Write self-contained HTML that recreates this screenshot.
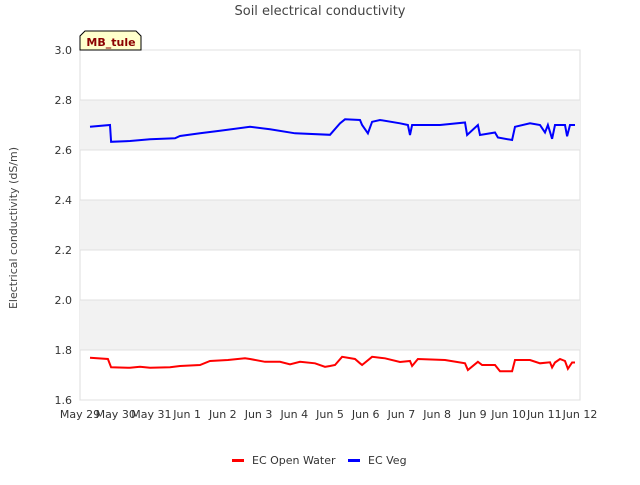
<!DOCTYPE html>
<html><head><meta charset="utf-8"><style>
body{margin:0;background:#fff;font-family:"Liberation Sans","DejaVu Sans",sans-serif;}
svg text{font-family:"DejaVu Sans","Liberation Sans",sans-serif;}
</style></head><body>
<svg id="chart" width="640" height="480" xmlns="http://www.w3.org/2000/svg">
<text x="320" y="15" text-anchor="middle" font-size="13" fill="#444">Soil electrical conductivity</text>
<text transform="translate(17,228) rotate(-90)" text-anchor="middle" font-size="11" fill="#444">Electrical conductivity (dS/m)</text>
<g id="bands"></g><g id="grid"></g><g id="ticks"></g><g id="series"></g>
<g>
<path d="M80,50 L80,36 L85,31 L136,31 L141,36 L141,50 Z" fill="#ffffcc" stroke="#000" stroke-width="1"/>
<text x="111" y="46" text-anchor="middle" font-size="11" font-weight="bold" fill="#8b0000">MB_tule</text>
</g>
<g>
<g><rect x="232" y="459" width="12" height="3" fill="#ff0000"/><text x="252" y="464" font-size="11" fill="#333">EC Open Water</text></g>
<g><rect x="348" y="459" width="12" height="3" fill="#0000ff"/><text x="368" y="464" font-size="11" fill="#333">EC Veg</text></g>
</g>
</svg>
<script>
const xTickLabels=["May 29","May 30","May 31","Jun 1","Jun 2","Jun 3","Jun 4","Jun 5","Jun 6","Jun 7","Jun 8","Jun 9","Jun 10","Jun 11","Jun 12"];
const yTicks=[1.6,1.8,2.0,2.2,2.4,2.6,2.8,3.0];
const vegDays=[0.28,0.84,0.87,1.40,1.96,2.66,2.80,3.36,3.92,4.76,5.32,6.02,7.00,7.28,7.42,7.84,7.90,8.06,8.18,8.40,8.96,9.18,9.24,9.30,10.08,10.78,10.84,11.14,11.20,11.62,11.70,12.10,12.18,12.60,12.88,13.02,13.10,13.22,13.30,13.58,13.64,13.72,13.86];
const vegValues=[2.693,2.70,2.633,2.636,2.643,2.647,2.656,2.667,2.677,2.693,2.683,2.667,2.661,2.707,2.723,2.72,2.70,2.667,2.713,2.72,2.707,2.70,2.66,2.70,2.70,2.71,2.66,2.70,2.66,2.67,2.65,2.64,2.693,2.707,2.70,2.67,2.70,2.645,2.70,2.70,2.655,2.70,2.70];
const owDays=[0.28,0.78,0.87,1.40,1.68,1.96,2.52,2.80,3.36,3.64,4.14,4.62,4.76,5.18,5.60,5.88,6.16,6.58,6.86,7.00,7.14,7.34,7.70,7.84,7.90,8.18,8.54,8.96,9.24,9.30,9.46,10.22,10.78,10.86,11.14,11.26,11.62,11.76,12.10,12.18,12.60,12.88,13.16,13.22,13.30,13.44,13.58,13.66,13.78,13.86];
const owValues=[1.769,1.764,1.731,1.729,1.733,1.729,1.731,1.736,1.74,1.756,1.76,1.767,1.764,1.753,1.753,1.743,1.753,1.747,1.733,1.736,1.74,1.773,1.764,1.747,1.74,1.773,1.767,1.752,1.756,1.736,1.764,1.76,1.747,1.72,1.753,1.74,1.74,1.715,1.715,1.76,1.76,1.747,1.751,1.73,1.75,1.764,1.756,1.725,1.75,1.75];
const X0=80,X1=580,Y0=400,Y1=50,ymin=1.6,ymax=3.0,ndays=14;
const xs=d=>X0+(X1-X0)*d/ndays, ys=v=>Y0-(Y0-Y1)*(v-ymin)/(ymax-ymin);
const NS="http://www.w3.org/2000/svg";
function mk(t,a,p){const e=document.createElementNS(NS,t);for(const k in a)e.setAttribute(k,a[k]);p.appendChild(e);return e;}
const bands=document.getElementById('bands'),grid=document.getElementById('grid'),ticks=document.getElementById('ticks'),series=document.getElementById('series');
const bg=mk('rect',{x:X0,y:Y1,width:X1-X0,height:Y0-Y1,fill:'#fff',stroke:'#ddd'},bands);


for(let i=0;i<yTicks.length-1;i++){
  if(i%2===1){const b=mk('rect',{x:X0,y:ys(yTicks[i+1]),width:X1-X0,height:ys(yTicks[i])-ys(yTicks[i+1]),fill:'#f2f2f2'},bands);
  
  }
}
yTicks.forEach(v=>{
  const l=mk('line',{x1:X0,x2:X1,y1:ys(v),y2:ys(v),stroke:'#e0e0e0'},grid);
  
  
  const t=mk('text',{x:X0-8,y:ys(v)+4,'text-anchor':'end','font-size':11,fill:'#333'},ticks);
  
  
  t.textContent=v.toFixed(1);
});
xTickLabels.forEach((s,i)=>{
  const t=mk('text',{x:xs(i),y:Y0+18,'text-anchor':'middle','font-size':11,fill:'#333'},ticks);
  
  
  t.textContent=s;
});
function line(days,vals,color,name){
  const p=mk('polyline',{points:days.map((d,i)=>xs(d).toFixed(1)+','+ys(vals[i]).toFixed(1)).join(' '),fill:'none',stroke:color,'stroke-width':2},series);
  
  
}
line(owDays,owValues,'#ff0000','ec-open-water-line');
line(vegDays,vegValues,'#0000ff','ec-veg-line');
</script>
</body></html>
